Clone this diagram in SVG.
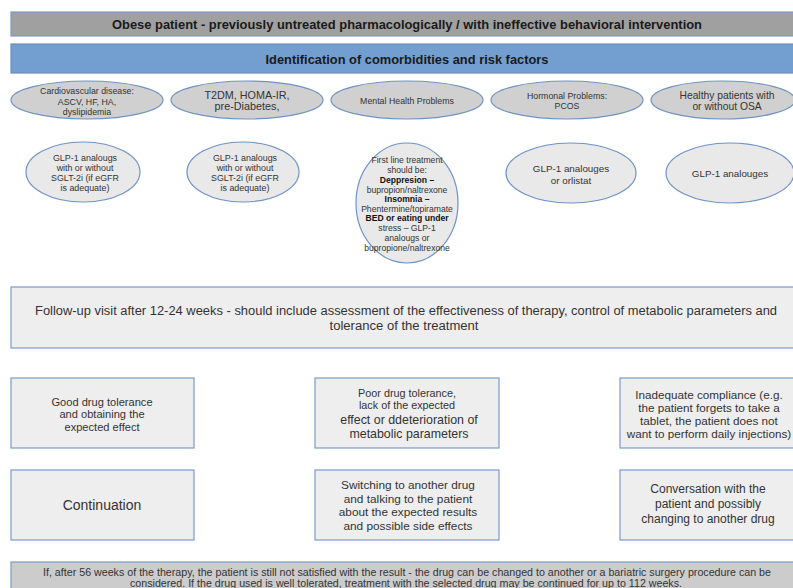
<svg xmlns="http://www.w3.org/2000/svg" width="793" height="588" viewBox="0 0 793 588">
<style>
.t{font-family:"Liberation Sans",Arial,sans-serif;fill:#333;text-anchor:middle}
.h{font-family:"Liberation Sans",Arial,sans-serif;fill:#1a1a1a;text-anchor:middle;font-weight:bold;font-size:13.5px}
.box{fill:#eeeeee;stroke:#7b9bcb;stroke-width:1.2}
.e1{fill:#d0d0d0;stroke:#6f93c6;stroke-width:1.2}
.e2{fill:#e9e9e9;stroke:#6f93c6;stroke-width:1.2}
</style>
<rect width="793" height="588" fill="#ffffff"/>
<g id="header-patient">
<rect x="11" y="12" width="790" height="24" fill="#a0a0a0" stroke="#7b9bcb" stroke-width="1.2"/>
<text class="h" x="407" y="29" textLength="590" lengthAdjust="spacingAndGlyphs">Obese patient - previously untreated pharmacologically / with ineffective behavioral intervention</text>
</g>
<g id="header-identification">
<rect x="11" y="44" width="790" height="29" fill="#729fd0" stroke="#6a8fc0" stroke-width="1.2"/>
<text class="h" x="407" y="64" textLength="283" lengthAdjust="spacingAndGlyphs">Identification of comorbidities and risk factors</text>
</g>
<g id="cat-cardio">
<ellipse class="e1" cx="87" cy="100" rx="76" ry="19"/>
<text class="t" font-size="8.8"><tspan x="87" y="94">Cardiovascular disease:</tspan><tspan x="87" y="104.5">ASCV, HF, HA,</tspan><tspan x="87" y="114.5">dyslipidemia</tspan></text>
</g>
<g id="cat-t2dm">
<ellipse class="e1" cx="247" cy="100" rx="76" ry="19"/>
<text class="t" font-size="10.8"><tspan x="247" y="99">T2DM, HOMA-IR,</tspan><tspan x="247" y="110">pre-Diabetes,</tspan></text>
</g>
<g id="cat-mental">
<ellipse class="e1" cx="407" cy="100" rx="76" ry="19"/>
<text class="t" font-size="8.8" x="407" y="104">Mental Health Problems</text>
</g>
<g id="cat-hormonal">
<ellipse class="e1" cx="567" cy="100" rx="76" ry="19"/>
<text class="t" font-size="8.8"><tspan x="567" y="98.5">Hormonal Problems:</tspan><tspan x="567" y="109">PCOS</tspan></text>
</g>
<g id="cat-healthy">
<ellipse class="e1" cx="723" cy="100" rx="72" ry="19"/>
<text class="t" font-size="10.3"><tspan x="727" y="99">Healthy patients with</tspan><tspan x="727" y="110">or without OSA</tspan></text>
</g>
<g id="tx-cardio">
<ellipse class="e2" cx="83" cy="172" rx="57" ry="30"/>
<text class="t" font-size="8.9"><tspan x="85" y="161">GLP-1 analougs</tspan><tspan x="85" y="171">with or without</tspan><tspan x="85" y="181">SGLT-2i (if eGFR</tspan><tspan x="85" y="191">is adequate)</tspan></text>
</g>
<g id="tx-t2dm">
<ellipse class="e2" cx="243" cy="172" rx="56" ry="30"/>
<text class="t" font-size="8.9"><tspan x="245" y="161">GLP-1 analougs</tspan><tspan x="245" y="171">with or without</tspan><tspan x="245" y="181">SGLT-2i (if eGFR</tspan><tspan x="245" y="191">is adequate)</tspan></text>
</g>
<g id="tx-mental">
<ellipse class="e2" cx="407" cy="203" rx="51" ry="60"/>
<text class="t" font-size="8.6"><tspan x="407" y="163">First line treatment</tspan><tspan x="407" y="173">should be:</tspan><tspan x="407" y="183" font-weight="bold" fill="#111">Deppresion –</tspan><tspan x="407" y="192.5">bupropion/naltrexone</tspan><tspan x="407" y="202" font-weight="bold" fill="#111">Insomnia –</tspan><tspan x="407" y="211.5">Phentermine/topiramate</tspan><tspan x="407" y="221" font-weight="bold" fill="#111">BED or eating under</tspan><tspan x="407" y="231">stress – GLP-1</tspan><tspan x="407" y="241">analougs or</tspan><tspan x="407" y="251">bupropione/naltrexone</tspan></text>
</g>
<g id="tx-hormonal">
<ellipse class="e2" cx="571" cy="173" rx="65" ry="30"/>
<text class="t" font-size="9.8"><tspan x="571" y="171.5">GLP-1 analouges</tspan><tspan x="571" y="183.5">or orlistat</tspan></text>
</g>
<g id="tx-healthy">
<ellipse class="e2" cx="730" cy="173" rx="64" ry="30"/>
<text class="t" font-size="9.8" x="730" y="176.5">GLP-1 analouges</text>
</g>
<g id="followup">
<rect class="box" x="11" y="287" width="790" height="61"/>
<text class="t" font-size="12.5" fill="#222"><tspan x="406" y="315" textLength="742" lengthAdjust="spacingAndGlyphs">Follow-up visit after 12-24 weeks - should include assessment of the effectiveness of therapy, control of metabolic parameters and</tspan><tspan x="404" y="330" textLength="149" lengthAdjust="spacingAndGlyphs">tolerance of the treatment</tspan></text>
</g>
<g id="good-tolerance">
<rect class="box" x="11" y="378" width="183" height="70"/>
<text class="t" font-size="11.1"><tspan x="102" y="406">Good drug tolerance</tspan><tspan x="102" y="418">and obtaining the</tspan><tspan x="102" y="430.5">expected effect</tspan></text>
</g>
<g id="poor-tolerance">
<rect class="box" x="315" y="378" width="184" height="70"/>
<text class="t"><tspan x="407" y="397" font-size="10.8">Poor drug tolerance,</tspan><tspan x="407" y="409" font-size="10.8">lack of the expected</tspan><tspan x="409" y="423.5" font-size="12.4">effect or ddeterioration of</tspan><tspan x="409" y="438" font-size="12.4">metabolic parameters</tspan></text>
</g>
<g id="inadequate-compliance">
<rect class="box" x="620" y="378" width="181" height="70"/>
<text class="t" font-size="11.7"><tspan x="709" y="399">Inadequate compliance (e.g.</tspan><tspan x="709" y="412">the patient forgets to take a</tspan><tspan x="709" y="425">tablet, the patient does not</tspan><tspan x="709" y="437.5">want to perform daily injections)</tspan></text>
</g>
<g id="continuation">
<rect class="box" x="11" y="470" width="183" height="70"/>
<text class="t" font-size="14" x="102" y="510">Continuation</text>
</g>
<g id="switching">
<rect class="box" x="315" y="470" width="184" height="70"/>
<text class="t" font-size="11.8"><tspan x="408" y="489">Switching to another drug</tspan><tspan x="408" y="502.5">and talking to the patient</tspan><tspan x="408" y="516">about the expected results</tspan><tspan x="408" y="529.5">and possible side effects</tspan></text>
</g>
<g id="conversation">
<rect class="box" x="620" y="470" width="181" height="70"/>
<text class="t" font-size="12"><tspan x="708" y="492.5">Conversation with the</tspan><tspan x="708" y="507.5">patient and possibly</tspan><tspan x="708" y="522.5">changing to another drug</tspan></text>
</g>
<g id="footer">
<rect x="11" y="562" width="790" height="40" fill="#cccccc" stroke="#7b9bcb" stroke-width="1.2"/>
<text class="t" font-size="10.5" fill="#222"><tspan x="407" y="575.5" textLength="728" lengthAdjust="spacingAndGlyphs">If, after 56 weeks of the therapy, the patient is still not satisfied with the result - the drug can be changed to another or a bariatric surgery procedure can be</tspan><tspan x="406" y="586.5" textLength="552" lengthAdjust="spacingAndGlyphs">considered. If the drug used is well tolerated, treatment with the selected drug may be continued for up to 112 weeks.</tspan></text>
</g>
<g id="connectors"></g>
</svg>
